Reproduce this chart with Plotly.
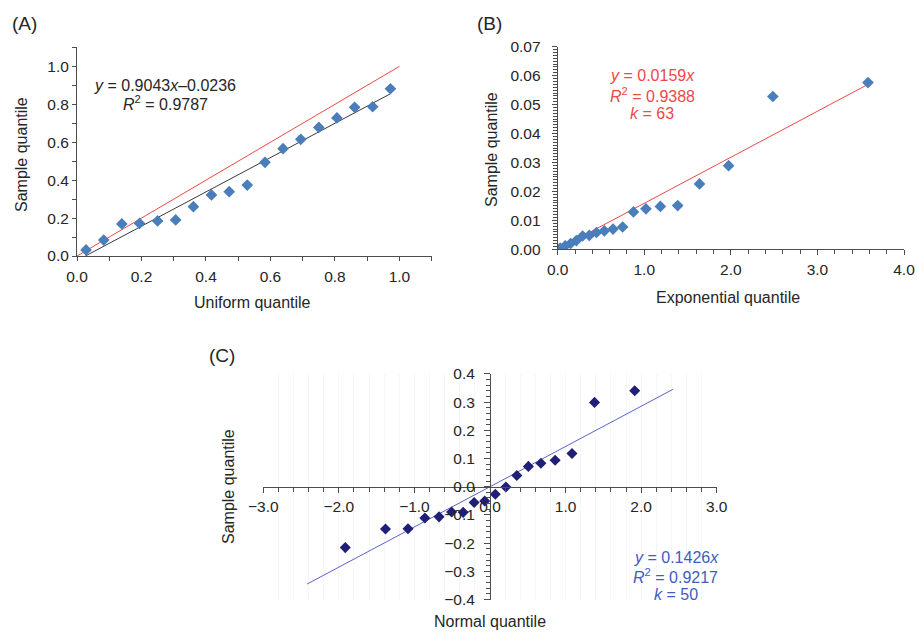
import plotly.graph_objects as go

W, H = 917, 632

# ---------------- data ----------------
# Panel A: uniform Q-Q
a_x = [0.028, 0.083, 0.139, 0.194, 0.250, 0.306, 0.361, 0.417, 0.472,
       0.528, 0.583, 0.639, 0.694, 0.750, 0.806, 0.861, 0.917, 0.972]
a_y = [0.032, 0.084, 0.169, 0.172, 0.185, 0.190, 0.260, 0.322, 0.339,
       0.374, 0.494, 0.566, 0.615, 0.678, 0.728, 0.784, 0.787, 0.882]
a_slope, a_intercept = 0.9043, -0.0236
a_fit_x = [0.026, 0.972]
a_ref_x = [0.0, 1.0]

# Panel B: exponential Q-Q
b_x = [0.028, 0.087, 0.149, 0.216, 0.288, 0.365, 0.448, 0.539, 0.639,
       0.750, 0.875, 1.019, 1.186, 1.386, 1.638, 1.974, 2.485, 3.584]
b_y = [0.0004, 0.0012, 0.0020, 0.0030, 0.0046, 0.0048, 0.0058, 0.0064, 0.0070,
       0.0077, 0.0129, 0.0140, 0.0148, 0.0151, 0.0226, 0.0289, 0.0528, 0.0576]
b_slope = 0.0159
b_fit_x = [0.0, 3.58]

# Panel C: normal Q-Q
c_x = [-1.915, -1.383, -1.085, -0.862, -0.674, -0.508, -0.355, -0.210, -0.070,
       0.070, 0.210, 0.355, 0.508, 0.674, 0.862, 1.085, 1.383, 1.915]
c_y = [-0.216, -0.150, -0.149, -0.111, -0.107, -0.090, -0.091, -0.056, -0.051,
       -0.027, -0.001, 0.040, 0.072, 0.083, 0.094, 0.118, 0.299, 0.340]
c_slope = 0.1426
c_fit_x = [-2.42, 2.42]

# ---------------- styling ----------------
FONT = "Liberation Sans, Arial, sans-serif"
AXC = "#4d4d4d"
TXT = "#262626"
BLUE = "#4a7ebb"
RED = "#ee4848"
DARK = "#3a3a3a"
NAVY = "#1f1f78"
CLINE = "#5a64c8"
CTXT = "#3e5cc2"


def px(x):
    return x / W


def py(y):
    return 1 - y / H


fig = go.Figure()

# Panel A
fig.add_trace(go.Scatter(x=a_ref_x, y=a_ref_x, mode="lines",
                         line=dict(color=RED, width=1), xaxis="x", yaxis="y"))
fig.add_trace(go.Scatter(x=a_fit_x, y=[a_slope * v + a_intercept for v in a_fit_x],
                         mode="lines", line=dict(color=DARK, width=1), xaxis="x", yaxis="y"))
fig.add_trace(go.Scatter(x=a_x, y=a_y, mode="markers",
                         marker=dict(symbol="diamond", size=9, color=BLUE), xaxis="x", yaxis="y"))

# Panel B
fig.add_trace(go.Scatter(x=b_fit_x, y=[b_slope * v for v in b_fit_x], mode="lines",
                         line=dict(color=RED, width=1), xaxis="x2", yaxis="y2"))
fig.add_trace(go.Scatter(x=b_x, y=b_y, mode="markers",
                         marker=dict(symbol="diamond", size=9, color=BLUE), xaxis="x2", yaxis="y2"))

# Panel C
fig.add_trace(go.Scatter(x=c_fit_x, y=[c_slope * v for v in c_fit_x], mode="lines",
                         line=dict(color=CLINE, width=1), xaxis="x3", yaxis="y3"))
fig.add_trace(go.Scatter(x=c_x, y=c_y, mode="markers",
                         marker=dict(symbol="diamond", size=8.5, color=NAVY), xaxis="x3", yaxis="y3"))

tickfont = dict(family=FONT, size=15.5, color=TXT)
common = dict(showline=True, linecolor=AXC, linewidth=1, ticks="outside", tickcolor=AXC,
              tickwidth=1, zeroline=False, showgrid=False, tickfont=tickfont,
              autorange=False, fixedrange=True, ticklabeloverflow="allow")

GRID = "#f6f6f9"

fig.update_layout(
    width=W, height=H,
    margin=dict(l=0, r=0, t=0, b=0),
    paper_bgcolor="white", plot_bgcolor="rgba(0,0,0,0)",
    showlegend=False,
    template="none",
    xaxis=dict(domain=[px(77), px(431.7)], range=[0, 1.1], anchor="y", tick0=0, dtick=0.2,
               tickformat=".1f", ticklen=4, ticklabelstandoff=2,
               minor=dict(dtick=0.1, tick0=0, ticks="outside", ticklen=4, tickcolor=AXC), **common),
    yaxis=dict(domain=[py(256), py(47.4)], range=[0, 1.1], anchor="x", tick0=0, dtick=0.2,
               tickformat=".1f", ticklen=4, ticklabelstandoff=0,
               minor=dict(dtick=0.1, tick0=0, ticks="outside", ticklen=4, tickcolor=AXC), **common),
    xaxis2=dict(domain=[px(557.7), px(904)], range=[0, 4], anchor="y2", tick0=0, dtick=1,
                tickformat=".1f", ticklen=5, ticklabelstandoff=1,
                minor=dict(dtick=0.2, tick0=0, ticks="outside", ticklen=4, tickcolor=AXC), **common),
    yaxis2=dict(domain=[py(249.3), py(46.7)], range=[0, 0.07], anchor="x2", tick0=0, dtick=0.01,
                tickformat=".2f", ticklen=5, ticklabelstandoff=8,
                minor=dict(dtick=0.001, tick0=0, ticks="outside", ticklen=4, tickcolor=AXC), **common),
    xaxis3=dict(domain=[px(263.3), px(716.7)], range=[-3, 3], anchor="free", position=py(486.7),
                tick0=0, dtick=1, tickformat=".1f", ticklen=5, ticklabelstandoff=1,
                minor=dict(dtick=0.2, tick0=0, ticks="outside", ticklen=4, tickcolor=AXC,
                           showgrid=True, gridcolor=GRID, gridwidth=1),
                **{**common, "showgrid": True, "gridcolor": GRID}),
    yaxis3=dict(domain=[py(599.5), py(373.9)], range=[-0.4, 0.4], anchor="free", position=px(490),
                tick0=0, dtick=0.1, tickformat=".1f", ticklen=6, ticklabelstandoff=6,
                minor=dict(dtick=0.02, tick0=0, ticks="outside", ticklen=4, tickcolor=AXC), **common),
)

ann = []


def label(text, x, y, size=16, color=TXT, angle=0):
    ann.append(dict(text=text, x=px(x), y=py(y), xref="paper", yref="paper",
                    xanchor="center", yanchor="middle", showarrow=False, textangle=angle,
                    font=dict(family=FONT, size=size, color=color)))


# panel letters
label("(A)", 24, 24, size=19)
label("(B)", 489, 24, size=19)
label("(C)", 222, 355, size=19)

# axis titles
label("Sample quantile", 22, 155, angle=-90)
label("Uniform quantile", 252, 302)
label("Sample quantile", 492, 150, angle=-90)
label("Exponential quantile", 728, 297)
label("Sample quantile", 228, 487, angle=-90)
label("Normal quantile", 490, 621)

# equations
label("<i>y</i> = 0.9043<i>x</i>–0.0236", 165, 85)
label("<i>R</i><sup>2</sup> = 0.9787", 165, 103)
label("<i>y</i> = 0.0159<i>x</i>", 652, 76, color=RED)
label("<i>R</i><sup>2</sup> = 0.9388", 652, 95, color=RED)
label("<i>k</i> = 63", 652, 113, color=RED)
label("<i>y</i> = 0.1426<i>x</i>", 676, 557, color=CTXT)
label("<i>R</i><sup>2</sup> = 0.9217", 675, 576, color=CTXT)
label("<i>k</i> = 50", 676, 594, color=CTXT)

fig.update_layout(annotations=ann)

fig.write_html("out.html",
               config={"displayModeBar": False, "staticPlot": True},
               post_script="document.body.style.margin='0';document.body.style.padding='0';"
                           "document.body.style.overflow='hidden';")
